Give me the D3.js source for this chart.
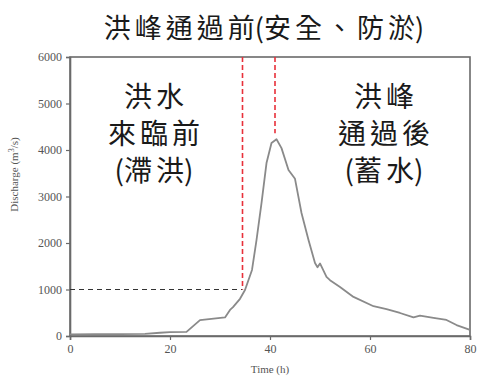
<!DOCTYPE html>
<html>
<head>
<meta charset="utf-8">
<script src="https://cdn.jsdelivr.net/npm/d3@7"></script>
<style>
	body { margin: 0; background: white; }
	svg { display: block; }
</style>
</head>
<body>
<div id="chart"></div>
<script>
// Hydrograph values
const hours = [0, 5, 10, 15, 18, 20, 23.3, 26, 31, 32, 32.6, 34, 35, 36.4, 37.3, 38.3, 39.3, 40.3, 41.3, 42.3, 43.7, 45, 46.3, 47.7, 49, 49.5, 50, 51.3, 52, 54, 56.7, 60.7, 63.3, 66, 68.7, 70, 72.7, 75.3, 77.3, 80]
const discharge = [35, 40, 40, 45, 70, 85, 90, 340, 400, 560, 620, 800, 990, 1420, 2060, 2860, 3720, 4150, 4230, 4040, 3570, 3380, 2645, 2065, 1570, 1480, 1560, 1270, 1200, 1055, 840, 640, 580, 495, 400, 440, 390, 345, 235, 130]
const xTicks = [0, 20, 40, 60, 80]
const yTicks = [0, 1000, 2000, 3000, 4000, 5000, 6000]
const thresholdLevel = 1000
const onsetHour = 34.5
const peakHour = 41

const title = "洪峰通過前(安全、防淤)"
const leftNote = ["洪水", "來臨前", "(滯洪)"]
const rightNote = ["洪峰", "通過後", "(蓄水)"]

const width = 481
const height = 389
const margin = { top: 57, right: 11, bottom: 53, left: 70 }
const innerW = width - margin.left - margin.right
const innerH = height - margin.top - margin.bottom

const svg = d3.select("#chart")
	.append("svg")
	.attr("width", width)
	.attr("height", height)

const g = svg.append("g")
	.attr("transform", `translate(${margin.left},${margin.top})`)

const xScale = d3.scaleLinear().domain([0, 80]).range([0, innerW])
const yScale = d3.scaleLinear().domain([0, 6000]).range([innerH, 0])

const axisColor = "#6a6a6a"
const serif = "'Liberation Serif', 'DejaVu Serif', serif"
const cjk = "'Noto Sans CJK TC', 'Noto Sans CJK SC', sans-serif"

// frame
g.append("rect")
	.attr("width", innerW)
	.attr("height", innerH)
	.attr("fill", "none")
	.attr("stroke", axisColor)
	.attr("stroke-width", 1.6)

// axes
const xAxis = g.append("g")
	.attr("transform", `translate(0,${innerH})`)
	.call(d3.axisBottom(xScale).tickValues(xTicks).tickSize(4).tickPadding(4))
const yAxis = g.append("g")
	.call(d3.axisLeft(yScale).tickValues(yTicks).tickSize(4).tickPadding(4).tickFormat(d3.format("d")))

;[xAxis, yAxis].forEach((ax) => {
	ax.select(".domain").attr("stroke", axisColor).attr("stroke-width", 1.6)
	ax.selectAll(".tick line").attr("stroke", axisColor).attr("stroke-width", 1.2)
	ax.selectAll(".tick text")
		.attr("fill", "#555")
		.style("font-family", serif)
		.style("font-size", "12px")
})

// axis titles
g.append("text")
	.attr("x", innerW / 2)
	.attr("y", innerH + 37)
	.attr("text-anchor", "middle")
	.attr("fill", "#555")
	.style("font-family", serif)
	.style("font-size", "11px")
	.text("Time (h)")

const yLabel = g.append("text")
	.attr("transform", `translate(-52,${innerH / 2 - 22}) rotate(-90)`)
	.attr("text-anchor", "middle")
	.attr("fill", "#555")
	.style("font-family", serif)
	.style("font-size", "11px")
yLabel.append("tspan").text("Discharge (m")
yLabel.append("tspan").attr("dy", -4).style("font-size", "8px").text("3")
yLabel.append("tspan").attr("dy", 4).text("/s)")

// black dashed threshold line
g.append("line")
	.attr("x1", xScale(0))
	.attr("x2", xScale(onsetHour))
	.attr("y1", yScale(thresholdLevel))
	.attr("y2", yScale(thresholdLevel))
	.attr("stroke", "#333")
	.attr("stroke-width", 1)
	.attr("stroke-dasharray", "5,4")

// hydrograph
const line = d3.line()
	.x((d, i) => xScale(hours[i]))
	.y((d) => yScale(d))

g.append("path")
	.datum(discharge)
	.attr("fill", "none")
	.attr("stroke", "#8a8a8a")
	.attr("stroke-width", 1.8)
	.attr("stroke-linejoin", "round")
	.attr("d", line)

// red dashed markers
const peakValue = d3.max(discharge)
g.append("line")
	.attr("x1", xScale(onsetHour))
	.attr("x2", xScale(onsetHour))
	.attr("y1", 0)
	.attr("y2", yScale(thresholdLevel))
	.attr("stroke", "#e8303a")
	.attr("stroke-width", 1.6)
	.attr("stroke-dasharray", "5,3")
g.append("line")
	.attr("x1", xScale(peakHour))
	.attr("x2", xScale(peakHour))
	.attr("y1", 0)
	.attr("y2", yScale(peakValue) - 6)
	.attr("stroke", "#e8303a")
	.attr("stroke-width", 1.6)
	.attr("stroke-dasharray", "5,3")

// CJK text: spread ideographs a bit, keep parentheses tight
const isWide = (c) => /[^\x00-\x7f]/.test(c)
const spacedText = (sel, str, gap) => {
	const chars = Array.from(str)
	chars.forEach((c, i) => {
		const next = chars[i + 1]
		sel.append("tspan")
			.style("letter-spacing", next && isWide(c) && isWide(next) ? `${gap}px` : "0px")
			.text(c)
	})
}

// title
const titleText = svg.append("text")
	.attr("x", 264)
	.attr("y", 38)
	.attr("text-anchor", "middle")
	.attr("fill", "#1a1a1a")
	.style("font-family", cjk)
	.style("font-size", "27px")
spacedText(titleText, title, 4)

// annotations
const addNote = (lines, cx) => {
	lines.forEach((t, i) => {
		const txt = svg.append("text")
			.attr("x", cx)
			.attr("y", 107 + i * 37)
			.attr("text-anchor", "middle")
			.attr("fill", "#1a1a1a")
			.style("font-family", cjk)
			.style("font-size", "28px")
		spacedText(txt, t, 4)
	})
}
addNote(leftNote, 154)
addNote(rightNote, 384)
</script>
</body>
</html>
